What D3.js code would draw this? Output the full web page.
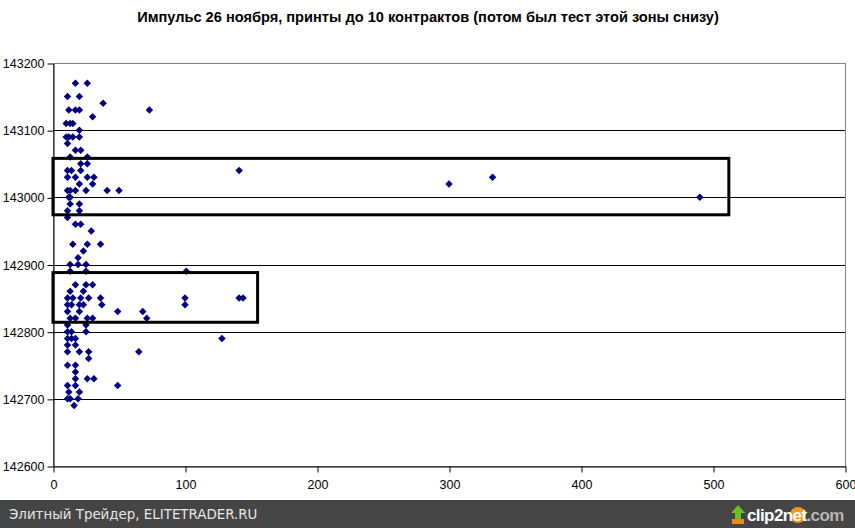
<!DOCTYPE html>
<html>
<head>
<meta charset="utf-8">
<script src="https://cdn.jsdelivr.net/npm/d3@7"></script>
<style>
  body { margin: 0; background: #fff; }
  svg { display: block; font-family: "Liberation Sans", Arial, sans-serif; }
</style>
</head>
<body>
<svg id="chart" width="855" height="528"></svg>
<script>
// chart data
const title = 'Импульс 26 ноября, принты до 10 контрактов (потом был тест этой зоны снизу)';
const xTicks = [0, 100, 200, 300, 400, 500, 600];
const yTicks = [142600, 142700, 142800, 142900, 143000, 143100, 143200];

// [size, price]
const prints = [
  [17, 143170], [26, 143170],
  [11, 143150], [20, 143150],
  [38, 143140],
  [12, 143130], [17, 143130], [20, 143130], [73, 143130],
  [30, 143120],
  [10, 143110], [13, 143110], [15, 143110],
  [20, 143100],
  [10, 143090], [12, 143090], [15, 143090], [20, 143090],
  [11, 143080],
  [17, 143070], [21, 143070],
  [13, 143060], [26, 143060],
  [21, 143050], [26, 143050],
  [11, 143040], [14, 143040], [21, 143040], [141, 143040],
  [11, 143030], [17, 143030], [26, 143030], [31, 143030], [333, 143030],
  [20, 143020], [30, 143020], [300, 143020],
  [11, 143010], [13, 143010], [17, 143010], [25, 143010], [41, 143010], [50, 143010],
  [12, 143000], [13, 143000], [490, 143000],
  [13, 142990], [20, 142990],
  [11, 142980], [20, 142980],
  [11, 142970],
  [17, 142960], [21, 142960],
  [29, 142950],
  [15, 142930], [26, 142930], [36, 142930],
  [23, 142920],
  [19, 142910],
  [13, 142900], [19, 142900], [25, 142900],
  [13, 142890], [25, 142890], [101, 142890],
  [17, 142870], [25, 142870], [30, 142870],
  [13, 142860], [23, 142860],
  [11, 142850], [15, 142850], [21, 142850], [27, 142850], [36, 142850], [100, 142850], [141, 142850], [144, 142850],
  [11, 142840], [14, 142840], [20, 142840], [23, 142840], [37, 142840], [100, 142840],
  [11, 142830], [20, 142830], [49, 142830], [68, 142830],
  [13, 142820], [17, 142820], [26, 142820], [30, 142820], [71, 142820],
  [11, 142810], [25, 142810],
  [11, 142800], [14, 142800], [25, 142800],
  [11, 142790], [14, 142790], [17, 142790], [128, 142790],
  [11, 142780], [17, 142780],
  [11, 142770], [20, 142770], [27, 142770], [65, 142770],
  [27, 142760],
  [11, 142750], [17, 142750],
  [17, 142740],
  [17, 142730], [26, 142730], [31, 142730],
  [11, 142720], [17, 142720], [49, 142720],
  [12, 142710], [20, 142710],
  [11, 142700], [13, 142700], [19, 142700],
  [16, 142690]
];

// highlighted zones: [x from, x to, price low, price high]
const zoneUpper = [0, 512, 142974, 143058];
const zoneLower = [0, 155, 142814, 142888];

const svg = d3.select('#chart');

const x = d3.scaleLinear().domain([0, 600]).range([53, 845]);
const y = d3.scaleLinear().domain([142600, 143200]).range([466, 63]);

// title
svg.append('text')
  .attr('x', 428)
  .attr('y', 22)
  .attr('text-anchor', 'middle')
  .style('font-size', '14.6px')
  .style('font-weight', 'bold')
  .text(title);

// plot area border
svg.append('rect')
  .attr('x', x(0) + 0.5)
  .attr('y', y(143200) + 0.5)
  .attr('width', x(600) - x(0))
  .attr('height', y(142600) - y(143200))
  .attr('fill', 'none')
  .attr('stroke', '#808080');

// gridlines
svg.append('g')
  .selectAll('line')
  .data(yTicks.slice(1, -1))
  .enter()
  .append('line')
  .attr('x1', x(0))
  .attr('x2', x(600))
  .attr('y1', d => Math.round(y(d)) + 0.5)
  .attr('y2', d => Math.round(y(d)) + 0.5)
  .attr('stroke', '#000');

// axes
const yAxis = svg.append('g')
  .attr('transform', `translate(${x(0) + 0.5},0.5)`)
  .call(d3.axisLeft(y).tickValues(yTicks).tickFormat(d3.format('d')).tickSize(6).tickSizeOuter(0).tickPadding(3));

const xAxis = svg.append('g')
  .attr('transform', `translate(0.5,${y(142600) + 0.5})`)
  .call(d3.axisBottom(x).tickValues(xTicks).tickSize(6).tickSizeOuter(0).tickPadding(8));

[yAxis, xAxis].forEach(a => {
  a.select('.domain').attr('stroke', '#000');
  a.selectAll('.tick line').attr('stroke', '#000');
  a.selectAll('text')
    .style('font-size', '12.5px')
    .style('font-family', '"Liberation Sans", Arial, sans-serif')
    .attr('fill', '#000');
});

// points
const diamond = d3.symbol().type(d3.symbolSquare).size(28);
svg.append('g')
  .selectAll('path')
  .data(prints)
  .enter()
  .append('path')
  .attr('d', diamond)
  .attr('transform', d => `translate(${x(d[0])},${y(d[1])}) rotate(45)`)
  .attr('fill', '#000080');

// zone boxes
svg.append('g')
  .selectAll('rect')
  .data([zoneUpper, zoneLower])
  .enter()
  .append('rect')
  .attr('x', d => x(d[0]))
  .attr('y', d => y(d[3]))
  .attr('width', d => x(d[1]) - x(d[0]))
  .attr('height', d => y(d[2]) - y(d[3]))
  .attr('fill', 'none')
  .attr('stroke', '#000')
  .attr('stroke-width', 3);

// footer bar
svg.append('rect')
  .attr('x', 0)
  .attr('y', 500)
  .attr('width', 855)
  .attr('height', 28)
  .attr('fill', '#454545');

svg.append('text')
  .attr('x', 9)
  .attr('y', 519)
  .attr('fill', '#e6e6e6')
  .style('font-family', '"DejaVu Sans", Verdana, sans-serif')
  .style('font-size', '13.4px')
  .text('Элитный Трейдер, ELITETRADER.RU');

// clip2net logo
const logo = svg.append('g').attr('transform', 'translate(731,504)');
logo.append('rect').attr('x', 1).attr('y', 15).attr('width', 12).attr('height', 5).attr('fill', '#f08a1c');
logo.append('path')
  .attr('d', 'M7,1 L14,9 L10,9 L10,16 L4,16 L4,9 L0,9 Z')
  .attr('fill', '#6cc024');
logo.append('circle').attr('cx', 67).attr('cy', 11).attr('r', 8).attr('fill', '#f39a1e');

const logoText = logo.append('text')
  .attr('x', 16)
  .attr('y', 17)
  .style('font-family', '"Liberation Sans", Arial, sans-serif')
  .style('font-size', '17px')
  .style('font-weight', 'bold')
  .style('letter-spacing', '-0.6px');
logoText.append('tspan').attr('fill', '#fff').text('clip');
logoText.append('tspan').attr('fill', '#fff').text('2');
logoText.append('tspan').attr('fill', '#fff').text('net');
logoText.append('tspan').attr('fill', '#b5b5b5').text('.com');
</script>
</body>
</html>
